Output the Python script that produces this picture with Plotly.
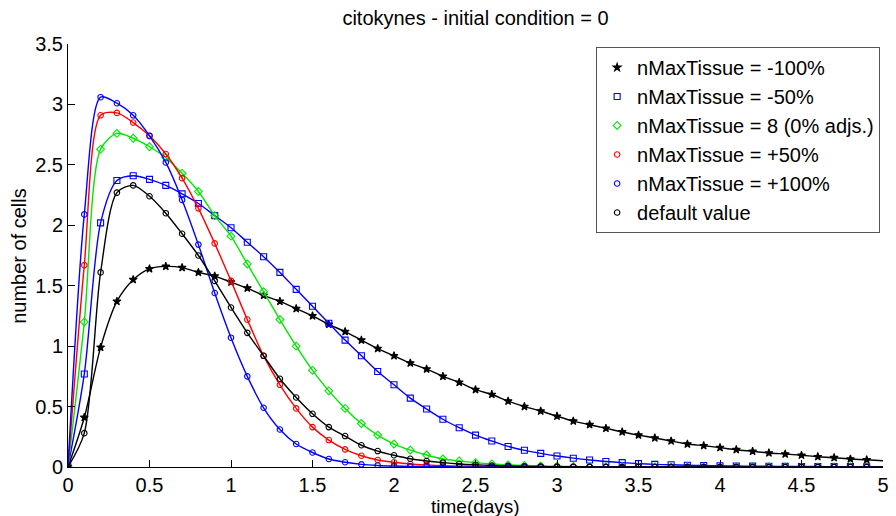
import plotly.graph_objects as go

# time axis (days), samples every 0.1 day
t = [round(i * 0.1, 1) for i in range(51)]

minus100 = [0, 0.41, 0.99, 1.37, 1.55, 1.64, 1.66, 1.65, 1.61, 1.58,
            1.53, 1.48, 1.42, 1.37, 1.31, 1.25, 1.18, 1.12, 1.05, 0.98,
            0.92, 0.86, 0.81, 0.75, 0.70, 0.64, 0.60, 0.545, 0.50, 0.463,
            0.42, 0.38, 0.35, 0.32, 0.29, 0.264, 0.24, 0.215, 0.19, 0.176,
            0.16, 0.143, 0.13, 0.116, 0.107, 0.097, 0.085, 0.077, 0.066, 0.06,
            0.052]

minus50 = [0, 0.77, 2.02, 2.37, 2.41, 2.38, 2.33, 2.26, 2.18, 2.08,
           1.98, 1.86, 1.74, 1.61, 1.47, 1.33, 1.19, 1.05, 0.92, 0.79,
           0.68, 0.57, 0.48, 0.395, 0.325, 0.264, 0.215, 0.17, 0.138, 0.113,
           0.091, 0.073, 0.058, 0.046, 0.036, 0.028, 0.022, 0.018, 0.015, 0.012,
           0.010, 0.008, 0.007, 0.006, 0.005, 0.004, 0.004, 0.003, 0.003, 0.002,
           0.002]

zero_adj = [0, 1.20, 2.63, 2.76, 2.72, 2.65, 2.56, 2.43, 2.28, 2.08,
            1.91, 1.68, 1.45, 1.22, 1.00, 0.80, 0.63, 0.485, 0.36, 0.264,
            0.19, 0.14, 0.099, 0.066, 0.05, 0.036, 0.025, 0.017, 0.012, 0.008,
            0.006, 0.004, 0.003, 0.002, 0.002, 0.001, 0.001, 0.001, 0.001, 0.001,
            0.001, 0, 0, 0, 0, 0, 0, 0, 0, 0,
            0]

plus50 = [0, 1.67, 2.91, 2.93, 2.85, 2.74, 2.59, 2.39, 2.14, 1.85,
          1.54, 1.22, 0.92, 0.68, 0.485, 0.33, 0.223, 0.146, 0.093, 0.058,
          0.039, 0.025, 0.017, 0.011, 0.007, 0.005, 0.003, 0.002, 0.001, 0.001,
          0, 0, 0, 0, 0, 0, 0, 0, 0, 0,
          0, 0, 0, 0, 0, 0, 0, 0, 0, 0,
          0]

plus100 = [0, 2.09, 3.06, 3.01, 2.91, 2.74, 2.52, 2.21, 1.84, 1.44,
           1.07, 0.75, 0.49, 0.31, 0.19, 0.12, 0.066, 0.039, 0.022, 0.013,
           0.008, 0.005, 0.003, 0.002, 0.001, 0, 0, 0, 0, 0,
           0, 0, 0, 0, 0, 0, 0, 0, 0, 0,
           0, 0, 0, 0, 0, 0, 0, 0, 0, 0,
           0]

default_val = [0, 0.28, 1.61, 2.27, 2.33, 2.24, 2.10, 1.93, 1.75, 1.54,
               1.32, 1.11, 0.92, 0.73, 0.575, 0.44, 0.33, 0.256, 0.18, 0.132,
               0.097, 0.068, 0.05, 0.036, 0.025, 0.018, 0.013, 0.009, 0.006, 0.004,
               0.003, 0.002, 0.001, 0, 0, 0, 0, 0, 0, 0,
               0, 0, 0, 0, 0, 0, 0, 0, 0, 0,
               0]

series_names = ["nMaxTissue = -100%", "nMaxTissue = -50%", "nMaxTissue = 8 (0% adjs.)",
                "nMaxTissue = +50%", "nMaxTissue = +100%", "default value"]
series_vals = [minus100, minus50, zero_adj, plus50, plus100, default_val]
colors = ["#000000", "#0000ff", "#00e600", "#ff0000", "#0000ff", "#000000"]
symbols = ["star", "square-open", "diamond-open", "circle-open", "circle-open", "circle-open"]
msizes = [6, 6, 6, 5.5, 5.5, 5.5]

x_ticks = [0, 0.5, 1, 1.5, 2, 2.5, 3, 3.5, 4, 4.5, 5]
x_ticklabels = ["0", "0.5", "1", "1.5", "2", "2.5", "3", "3.5", "4", "4.5", "5"]
y_ticks = [0, 0.5, 1, 1.5, 2, 2.5, 3, 3.5]
y_ticklabels = ["0", "0.5", "1", "1.5", "2", "2.5", "3", "3.5"]

FONT = "Liberation Sans, Arial, sans-serif"

fig = go.Figure()
for name, vals, c, sym, ms in zip(series_names, series_vals, colors, symbols, msizes):
    fig.add_trace(go.Scatter(x=t, y=vals, mode="lines",
                             line=dict(color=c, width=1.4, shape="spline", smoothing=0.8),
                             showlegend=False, hoverinfo="skip"))
    fig.add_trace(go.Scatter(x=t[:-1], y=vals[:-1], mode="markers", name=name,
                             marker=dict(symbol=sym, size=ms, color=c,
                                         line=dict(color=c, width=1.1))))

fig.update_layout(
    width=896, height=516,
    margin=dict(l=68, r=7, t=44, b=49),
    paper_bgcolor="white", plot_bgcolor="white",
    font=dict(family=FONT, size=20, color="black"),
    title=dict(text="citokynes - initial condition = 0", x=0.5, xref="paper",
               y=1 - 18 / 516, yanchor="middle", font=dict(size=20)),
    showlegend=True,
    legend=dict(x=0.648, y=0.993, xanchor="left", yanchor="top",
                bgcolor="white", bordercolor="#555555", borderwidth=1,
                font=dict(size=20), tracegroupgap=0, itemwidth=30),
    xaxis=dict(range=[0, 5], tickvals=x_ticks, ticktext=x_ticklabels,
               ticks="inside", ticklen=7, tickcolor="black", showline=True,
               linecolor="black", linewidth=1, showgrid=False, zeroline=False,
               tickfont=dict(size=20)),
    yaxis=dict(range=[0, 3.5], tickvals=y_ticks, ticktext=y_ticklabels,
               ticks="inside", ticklen=7, tickcolor="black", showline=True,
               linecolor="black", linewidth=1, showgrid=False, zeroline=False,
               tickfont=dict(size=20)),
    annotations=[
        dict(text="time(days)", xref="paper", yref="paper", x=0.5, y=(467 - 506) / 423,
             xanchor="center", yanchor="middle", showarrow=False, font=dict(size=19)),
        dict(text="number of cells", xref="paper", yref="paper", x=(18 - 68) / 821, y=0.5,
             xanchor="center", yanchor="middle", textangle=-90, showarrow=False,
             font=dict(size=20)),
    ],
)

fig.write_html("out.html")
